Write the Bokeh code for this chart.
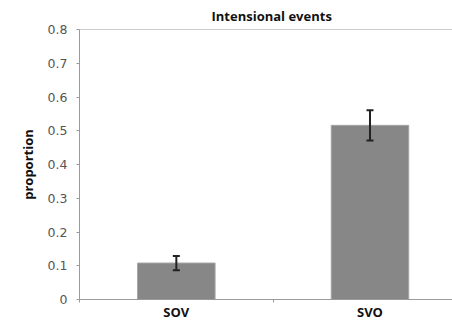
from bokeh.plotting import figure
from bokeh.models import Range1d, FixedTicker, Span, Whisker, ColumnDataSource
from bokeh.embed import file_html
from bokeh.resources import INLINE

categories = ["SOV", "SVO"]
proportions = [0.108, 0.516]
errors = [0.021, 0.045]
y_ticks = [0, 0.1, 0.2, 0.3, 0.4, 0.5, 0.6, 0.7, 0.8]
y_tick_labels = ["0", "0.1", "0.2", "0.3", "0.4", "0.5", "0.6", "0.7", "0.8"]

xs = [i + 0.5 for i in range(len(categories))]
src = ColumnDataSource(dict(
    x=xs, top=proportions,
    upper=[v + e for v, e in zip(proportions, errors)],
    lower=[v - e for v, e in zip(proportions, errors)],
))

p = figure(width=452, height=323, output_backend="svg", toolbar_location=None,
           x_range=Range1d(0, 1.926), y_range=Range1d(0, 0.8),
           min_border_left=79, min_border_right=0, min_border_top=29, min_border_bottom=23)

p.title.text = "Intensional events"
p.title.align = "left"
p.title.text_font = "Open Sans"
p.title.text_font_size = "13px"
p.title.text_font_style = "bold"
p.title.text_color = "#111111"
p.title.offset = 132
p.title.standoff = 9

p.vbar(x="x", top="top", width=0.4, source=src, fill_color="#878787",
       line_color="#a3a3a3", line_width=1)
w = Whisker(base="x", upper="upper", lower="lower", source=src,
            line_color="#222222", line_width=2, level="overlay")
w.upper_head.size = 7
w.lower_head.size = 7
w.upper_head.line_color = "#222222"
w.lower_head.line_color = "#222222"
w.upper_head.line_width = 2
w.lower_head.line_width = 2
p.add_layout(w)

p.add_layout(Span(location=0.8, dimension="width", line_color="#9a9a9a", line_width=1))

p.outline_line_color = None
p.grid.visible = False

p.xaxis.ticker = FixedTicker(ticks=xs, minor_ticks=[0, 1, 2])
p.xaxis.major_label_overrides = {x: c for x, c in zip(xs, categories)}
p.xaxis.major_tick_out = 0
p.xaxis.major_tick_in = 0
p.xaxis.minor_tick_out = 3
p.xaxis.minor_tick_in = 0
p.xaxis.minor_tick_line_color = "#9a9a9a"
p.xaxis.axis_line_color = "#9a9a9a"
p.xaxis.major_label_text_font = "Open Sans"
p.xaxis.major_label_text_font_style = "bold"
p.xaxis.major_label_text_font_size = "13px"
p.xaxis.major_label_text_color = "#111111"
p.xaxis.major_label_standoff = 0

p.yaxis.ticker = FixedTicker(ticks=y_ticks, minor_ticks=[])
p.yaxis.major_label_overrides = {t: l for t, l in zip(y_ticks, y_tick_labels)}
p.yaxis.major_tick_out = 3
p.yaxis.major_tick_in = 0
p.yaxis.major_tick_line_color = "#9a9a9a"
p.yaxis.axis_line_color = "#9a9a9a"
p.yaxis.major_label_text_font = "DejaVu Sans"
p.yaxis.major_label_text_font_size = "12.5px"
p.yaxis.major_label_text_color = "#555555"
p.yaxis.major_label_standoff = 9
p.yaxis.axis_label = "proportion"
p.yaxis.axis_label_text_font = "Open Sans"
p.yaxis.axis_label_text_font_style = "bold"
p.yaxis.axis_label_text_font_size = "13px"
p.yaxis.axis_label_text_color = "#111111"
p.yaxis.axis_label_standoff = 8

open("out.html", "w").write(file_html(p, INLINE))
